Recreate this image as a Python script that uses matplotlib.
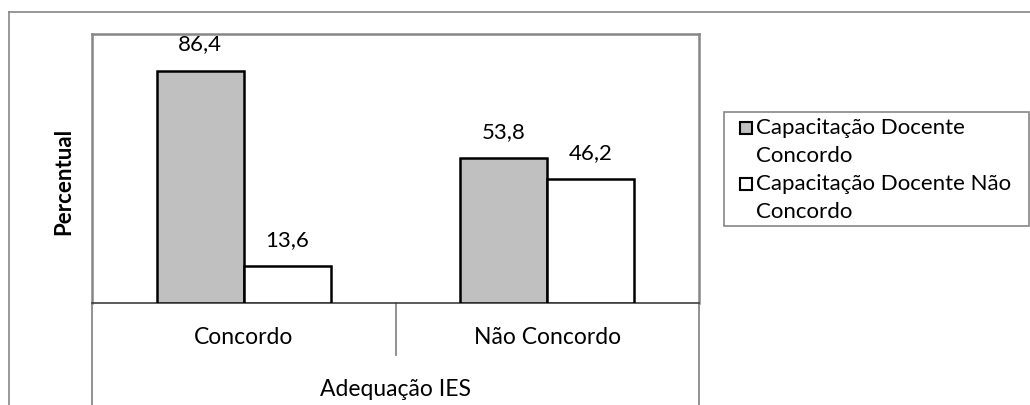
import matplotlib
matplotlib.use("Agg")
import matplotlib.pyplot as plt
from matplotlib.patches import Rectangle
from matplotlib.lines import Line2D
import numpy as np

categories = ["Concordo", "Não Concordo"]
series_names = ["Capacitação Docente\nConcordo", "Capacitação Docente Não\nConcordo"]
concordo_vals = [86.4, 53.8]
nao_concordo_vals = [13.6, 46.2]
axis_title = "Adequação IES"
y_title = "Percentual"

W, H = 1030, 405
plt.rcParams["font.family"] = ["Lato", "DejaVu Sans"]
fig = plt.figure(figsize=(W / 100, H / 100), dpi=100)


def fx(x):
    return x / W


def fy(y):
    return 1 - y / H


# plot area in pixels
L, R, T, B = 92, 699, 34, 303
ax = fig.add_axes([fx(L), fy(B), fx(R) - fx(L), fy(T) - fy(B)])

grey_border = "#868686"
fills = ["#c0c0c0", "#ffffff"]
bar_w = 0.287
x = np.arange(len(categories))

bars1 = ax.bar(x - bar_w / 2, concordo_vals, bar_w, color=fills[0],
               edgecolor="black", linewidth=1.8, zorder=3)
bars2 = ax.bar(x + bar_w / 2, nao_concordo_vals, bar_w, color=fills[1],
               edgecolor="black", linewidth=1.8, zorder=3)

fs = 16
for bars, vals in ((bars1, concordo_vals), (bars2, nao_concordo_vals)):
    for b, v in zip(bars, vals):
        ax.annotate(f"{v:.1f}".replace(".", ","),
                    (b.get_x() + b.get_width() / 2, v),
                    xytext=(0, 26), textcoords="offset pixels",
                    ha="center", va="center", fontsize=fs)

ax.set_xlim(-0.5, len(categories) - 0.5)
ax.set_ylim(0, 100)
ax.set_xticks([])
ax.set_yticks([])
for side in ("top", "left", "right"):
    ax.spines[side].set_color(grey_border)
    ax.spines[side].set_linewidth(1.8)
ax.spines["bottom"].set_color("#404040")
ax.spines["bottom"].set_linewidth(1.2)

# category table under the axis
trans = ax.get_xaxis_transform()
h_px = B - T
y_sep = -(355 - B) / h_px
y_bot = -(H + 2 - B) / h_px
for i in range(len(categories) + 1):
    xb = i - 0.5
    yb = y_bot if i in (0, len(categories)) else y_sep
    ax.add_line(Line2D([xb, xb], [0, yb], transform=trans, color="#7f7f7f",
                       linewidth=1.2, clip_on=False))
for i, c in enumerate(categories):
    ax.text(i, -(338 - B) / h_px, c, transform=trans, ha="center",
            va="center", fontsize=fs + 0.5)
ax.text(0.5, -(389 - B) / h_px, axis_title, transform=ax.transAxes,
        ha="center", va="center", fontsize=fs + 0.5)

fig.text(fx(64), fy(181), y_title, rotation=90, ha="center", va="center",
         fontsize=fs, fontweight="bold")

# outer chart frame
fig.add_artist(Line2D([fx(9), fx(W + 5)], [fy(12), fy(12)], color=grey_border,
                      linewidth=1.2))
fig.add_artist(Line2D([fx(9), fx(9)], [fy(12), fy(H + 5)], color=grey_border,
                      linewidth=1.2))

# legend
lx0, lx1, ly0, ly1 = 724, 1029, 112, 226
fig.add_artist(Rectangle((fx(lx0), fy(ly1)), fx(lx1) - fx(lx0), fy(ly0) - fy(ly1),
                         facecolor="white", edgecolor=grey_border, linewidth=1.2))
entry_y = [128, 184]
for name, fc, ey in zip(series_names, fills, entry_y):
    fig.add_artist(Rectangle((fx(740), fy(ey + 6)), fx(12), 12 / H,
                             facecolor=fc, edgecolor="black", linewidth=1.5))
    first, second = name.split("\n")
    fig.text(fx(756), fy(ey), first, ha="left", va="center", fontsize=fs)
    fig.text(fx(756), fy(ey + 28), second, ha="left", va="center", fontsize=fs)

fig.savefig("out.png", dpi=100)
